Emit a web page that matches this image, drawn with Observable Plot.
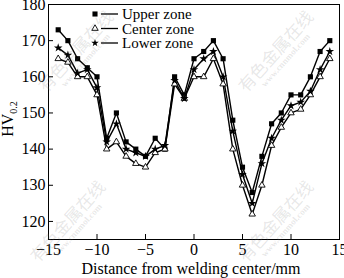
<!DOCTYPE html>
<html><head><meta charset="utf-8">
<script src="https://cdn.jsdelivr.net/npm/d3@7"></script>
<script src="https://cdn.jsdelivr.net/npm/@observablehq/plot@0.6"></script>
<style>
body{margin:0;background:#fff;}
#wrap{position:relative;width:344px;height:278px;overflow:hidden;}
.wm{position:absolute;color:rgba(120,120,120,0.18);font-family:"Noto Sans CJK SC";transform:rotate(-48deg);transform-origin:center;white-space:nowrap;text-align:center;line-height:1.1;pointer-events:none;}
.wm .cn{font-size:17px;}
.wm .en{font-size:9px;font-family:"Liberation Serif";font-weight:bold;}
</style></head>
<body><div id="wrap"></div>
<script>
const xs = [-14,-13,-12,-11,-10,-9,-8,-7,-6,-5,-4,-3,-2,-1,0,1,2,3,4,5,6,7,8,9,10,11,12,13,14];
const upper  = [173,170,165,162.5,160,143,150,142,140,138,143,140,160,155,165,167,170,165,148,135,128,138,147,150,155,155,160,167,170];
const center = [165,164,160,160,155,140,142,138,136,135,139,140,158,154,160,160,165,158,140,130,122,130,141,146,150,151,155,160,165];
const lower  = [168,166,161,162,157,142,147,140,139,138,140,141,159,154,162,165,167,160,145,133,125,136,143,148,152,153,156,162,167];
const seriesNames = ["Upper zone","Center zone","Lower zone"];
const xTicks = [-15,-10,-5,0,5,10,15];
const yTicks = [120,130,140,150,160,170,180];

const rows = [];
[upper, center, lower].forEach((arr, i) => arr.forEach((v, j) => rows.push({x: xs[j], y: v, s: seriesNames[i]})));
const sel = n => rows.filter(d => d.s === n);

const font = "Times New Roman, Liberation Serif, serif";
const chart = Plot.plot({
  width: 344, height: 278,
  marginLeft: 48, marginRight: 5, marginTop: 4, marginBottom: 39,
  style: {fontFamily: font, fontSize: "15px", color: "#000", background: "#fff"},
  x: {domain: [-15, 15]},
  y: {domain: [115, 180]},
  marks: [
    Plot.frame({stroke: "#000", strokeWidth: 1}),
    Plot.axisX({ticks: xTicks, tickSize: 0, tickPadding: 4, label: null, fontSize: 16}),
    Plot.axisX({ticks: xTicks, tickSize: -5, tickFormat: () => "", label: null}),
    Plot.axisY({ticks: yTicks, tickSize: 0, tickPadding: 3, label: null, fontSize: 16}),
    Plot.axisY({ticks: yTicks, tickSize: -5, tickFormat: () => "", label: null}),
    Plot.line(rows, {x: "x", y: "y", z: "s", stroke: "#000", strokeWidth: 1.4}),
    Plot.dot(sel("Upper zone"), {x: "x", y: "y", symbol: () => "square", fill: "#000", stroke: "none", r: 2.9}),
    Plot.dot(sel("Center zone"), {x: "x", y: "y", symbol: () => "triangle", fill: "#fff", stroke: "#000", strokeWidth: 0.9, r: 2.4}),
    Plot.dot(sel("Lower zone"), {x: "x", y: "y", symbol: () => "star", fill: "#000", stroke: "none", r: 2.7})
  ]
});
const wrap = document.getElementById("wrap");
wrap.appendChild(chart);

const svg = d3.select(chart);
// x axis title
svg.append("text").attr("x", 191).attr("y", 274).attr("text-anchor", "middle")
  .attr("font-size", 16).attr("fill", "#000")
  .text("Distance from welding center/mm");
// y axis title with subscript
const yl = svg.append("text").attr("transform", "translate(13,119) rotate(-90)")
  .attr("text-anchor", "middle").attr("font-size", 16).attr("fill", "#000");
yl.append("tspan").text("HV");
yl.append("tspan").attr("font-size", 10).attr("dy", 4).text("0.2");

// legend
const sym = {"Upper zone": d3.symbolSquare, "Center zone": d3.symbolTriangle, "Lower zone": d3.symbolStar};
const lg = svg.append("g");
seriesNames.forEach((n, i) => {
  const y = 14 + i * 14.5;
  const p = lg.append("path").attr("transform", `translate(95,${y})`)
    .attr("d", d3.symbol(sym[n], n === "Upper zone" ? 26 : 18)());
  if (n === "Center zone") p.attr("fill", "#fff").attr("stroke", "#000").attr("stroke-width", 0.9);
  else p.attr("fill", "#000");
  lg.append("line").attr("x1", 101).attr("x2", 118).attr("y1", y).attr("y2", y).attr("stroke", "#000").attr("stroke-width", 1.3);
  lg.append("text").attr("x", 122).attr("y", y + 5).attr("text-anchor", "start").attr("font-size", 15).attr("fill", "#000").text(n);
});

// watermarks
[[28, 40], [228, 40], [20, 210], [228, 210]].forEach(([l, t]) => {
  const d = document.createElement("div");
  d.className = "wm";
  d.style.left = l + "px"; d.style.top = t + "px";
  d.innerHTML = '<div class="cn">有色金属在线</div><div class="en">www.cnnmol.com</div>';
  wrap.appendChild(d);
});
</script></body></html>
